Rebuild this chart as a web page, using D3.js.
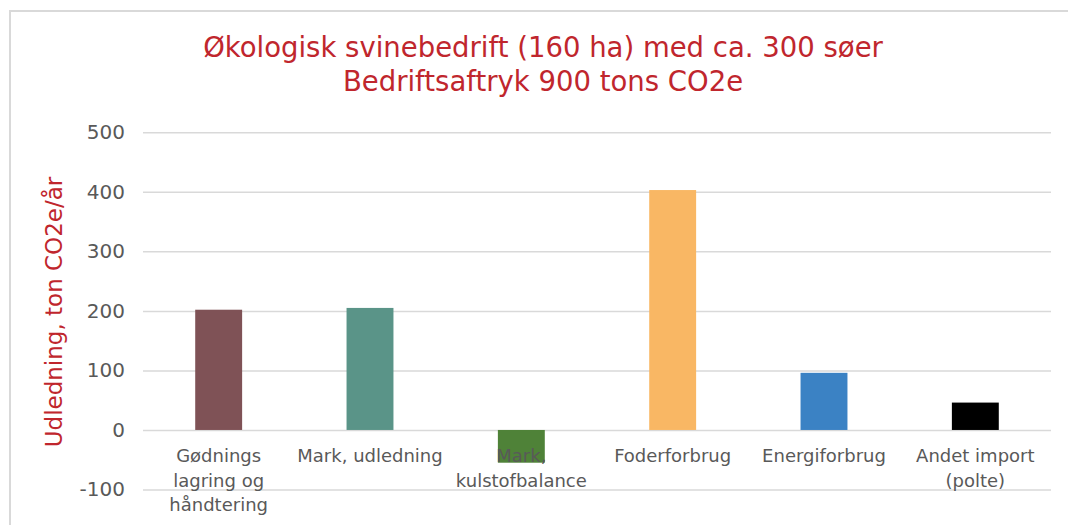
<!DOCTYPE html>
<html>
<head>
<meta charset="utf-8">
<script src="https://cdn.jsdelivr.net/npm/d3@7"></script>
<style>
  html, body { margin: 0; padding: 0; background: #fff; }
  svg { display: block; }
</style>
</head>
<body>
<svg id="chart" width="1068" height="525"></svg>
<script>
const categories = [
  ["Gødnings", "lagring og", "håndtering"],
  ["Mark, udledning"],
  ["Mark,", "kulstofbalance"],
  ["Foderforbrug"],
  ["Energiforbrug"],
  ["Andet import", "(polte)"]
];
const values = [202, 205, -55, 403, 96, 46];
const barColors = ["#7f5256", "#5a9488", "#4f8238", "#f9b764", "#3b82c4", "#000000"];
const yTicks = [-100, 0, 100, 200, 300, 400, 500];
const titleLines = ["Økologisk svinebedrift (160 ha) med ca. 300 søer", "Bedriftsaftryk 900 tons CO2e"];
const yAxisTitle = "Udledning, ton CO2e/år";

(function () {
const svg = d3.select("#chart");
const font = "'DejaVu Sans', sans-serif";
const red = "#c0262d";
const gray = "#595959";

// frame
svg.append("path")
  .attr("d", "M10,525 L10,11 L1068,11")
  .attr("fill", "none").attr("stroke", "#d9d9d9").attr("stroke-width", 2);

const pLeft = 143, pRight = 1051, pTop = 132.3, pBottom = 489.5;
const y = d3.scaleLinear().domain([-100, 500]).range([pBottom, pTop]);
const x = d3.scaleBand().domain(d3.range(categories.length)).range([pLeft, pRight]).paddingInner(0.69).paddingOuter(0.345);

// title
svg.append("g").selectAll("text").data(titleLines).join("text")
  .attr("x", 543).attr("y", (d, i) => 57 + i * 34)
  .attr("text-anchor", "middle")
  .attr("font-family", font).attr("font-size", 27.5)
  .attr("fill", red)
  .text(d => d);

// y axis gridlines + labels
const yAxis = d3.axisLeft(y).tickValues(yTicks).tickSize(-(pRight - pLeft)).tickPadding(18)
  .tickFormat(d => String(d));
const gy = svg.append("g").attr("transform", `translate(${pLeft},0)`).call(yAxis);
gy.select(".domain").remove();
gy.selectAll(".tick line").attr("stroke", "#d9d9d9").attr("stroke-width", 1.5);
gy.selectAll(".tick text").attr("font-family", font).attr("font-size", 20).attr("fill", gray);

// y axis title
svg.append("text")
  .attr("transform", `translate(62,312) rotate(-90)`)
  .attr("text-anchor", "middle")
  .attr("font-family", font).attr("font-size", 23)
  .attr("fill", red)
  .text(yAxisTitle);

// bars
svg.append("g").selectAll("rect").data(values).join("rect")
  .attr("x", (d, i) => x(i))
  .attr("width", x.bandwidth())
  .attr("y", d => y(Math.max(0, d)))
  .attr("height", d => Math.abs(y(d) - y(0)))
  .attr("fill", (d, i) => barColors[i]);

// category labels
const xl = svg.append("g").selectAll("text").data(categories).join("text")
  .attr("text-anchor", "middle")
  .attr("font-family", font).attr("font-size", 18)
  .attr("fill", gray);
xl.each(function(lines, i) {
  const t = d3.select(this);
  lines.forEach((ln, j) => {
    t.append("tspan")
      .attr("x", x(i) + x.bandwidth() / 2)
      .attr("y", 462 + j * 24.5)
      .text(ln);
  });
});
})();
</script>
</body>
</html>
